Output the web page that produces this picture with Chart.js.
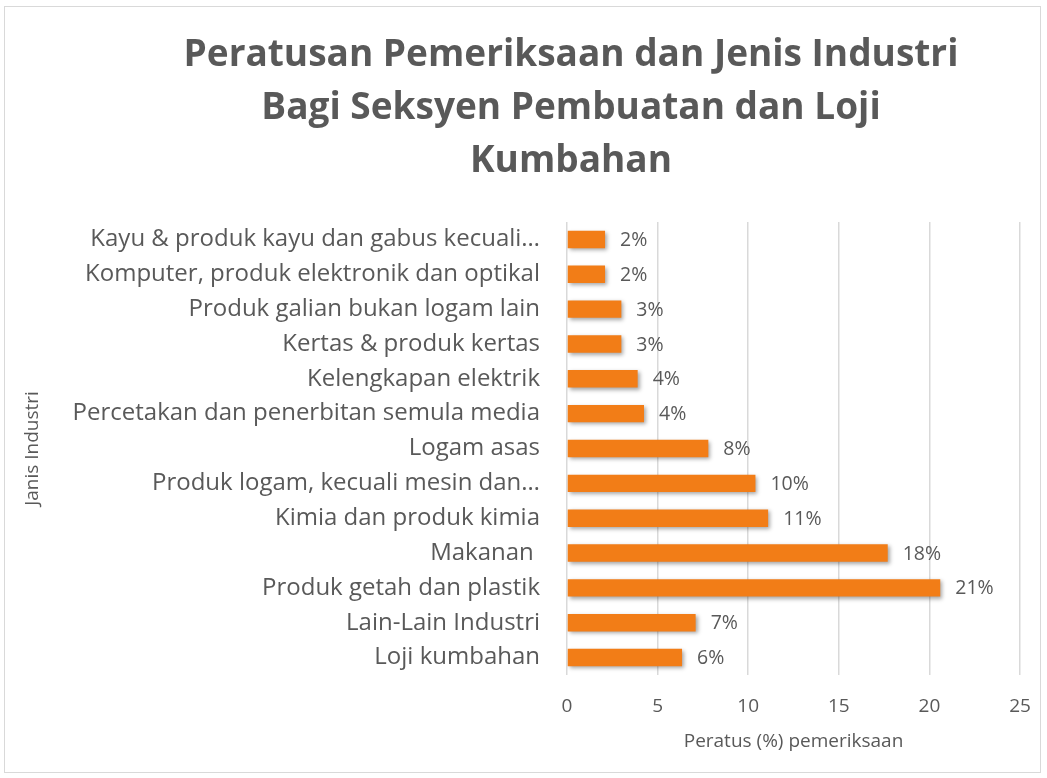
<!DOCTYPE html>
<html>
<head>
<meta charset="utf-8">
<script src="https://cdn.jsdelivr.net/npm/chart.js@4"></script>
<style>
  body { margin: 0; background: #fff; }
  #wrap { width: 1047px; height: 778px; position: relative; }
</style>
</head>
<body>
<div id="wrap"><canvas id="chart"></canvas></div>
<script>
const titleLines = ['Peratusan Pemeriksaan dan Jenis Industri', 'Bagi Seksyen Pembuatan dan Loji', 'Kumbahan'];
const industries = [
  'Kayu & produk kayu dan gabus kecuali…',
  'Komputer, produk elektronik dan optikal',
  'Produk galian bukan logam lain',
  'Kertas & produk kertas',
  'Kelengkapan elektrik',
  'Percetakan dan penerbitan semula media',
  'Logam asas',
  'Produk logam, kecuali mesin dan…',
  'Kimia dan produk kimia',
  'Makanan ',
  'Produk getah dan plastik',
  'Lain-Lain Industri',
  'Loji kumbahan'
];
const percentages = [2.1, 2.1, 3.0, 3.0, 3.9, 4.25, 7.8, 10.4, 11.1, 17.7, 20.6, 7.1, 6.35];
const xAxisMin = 0;
const xAxisMax = 25;
const xAxisStep = 5;

const grey = '#595959';
const font = '"Open Sans", Lato, sans-serif';

// title drawn by hand so it can sit where Excel put it
const titlePlugin = {
  id: 'excelTitle',
  afterDraw(chart) {
    const ctx = chart.ctx;
    ctx.save();
    ctx.fillStyle = grey;
    ctx.font = 'bold 37px ' + font;
    ctx.textAlign = 'center';
    ctx.textBaseline = 'middle';
    titleLines.forEach((line, i) => ctx.fillText(line, 571, 55 + i * 53));
    // chart border
    ctx.strokeStyle = '#d9d9d9';
    ctx.lineWidth = 1;
    ctx.strokeRect(4.5, 6.5, 1036, 766);
    ctx.restore();
  }
};

const barShadow = {
  id: 'barShadow',
  beforeDatasetsDraw(chart) {
    const ctx = chart.ctx;
    ctx.save();
    ctx.shadowColor = 'rgba(0,0,0,0.35)';
    ctx.shadowBlur = 4;
    ctx.shadowOffsetX = 2;
    ctx.shadowOffsetY = 2;
  },
  afterDatasetsDraw(chart) {
    chart.ctx.restore();
  }
};

const valueLabels = {
  id: 'valueLabels',
  afterDatasetsDraw(chart) {
    const ctx = chart.ctx;
    const meta = chart.getDatasetMeta(0);
    ctx.save();
    ctx.fillStyle = grey;
    ctx.font = '19.5px ' + font;
    ctx.textAlign = 'left';
    ctx.textBaseline = 'middle';
    meta.data.forEach((bar, i) => {
      ctx.fillText(Math.round(percentages[i]) + '%', bar.x + 15, bar.y + 1);
    });
    ctx.restore();
  }
};

new Chart(document.getElementById('chart'), {
  type: 'bar',
  data: {
    labels: industries,
    datasets: [{
      label: 'Peratus (%) pemeriksaan',
      data: percentages,
      backgroundColor: '#F27D17',
      borderWidth: 0,
      barPercentage: 0.5,
      categoryPercentage: 1
    }]
  },
  options: {
    indexAxis: 'y',
    responsive: true,
    maintainAspectRatio: false,
    animation: false,
    layout: { padding: { top: 222, right: 27, bottom: 12, left: 18 } },
    plugins: {
      legend: { display: false },
      title: { display: false },
      tooltip: { enabled: false }
    },
    scales: {
      x: {
        min: xAxisMin,
        max: xAxisMax,
        afterFit(scale) {
          scale.height = 91;
          scale.paddingLeft = 0;
          scale.paddingRight = 0;
        },
        ticks: { stepSize: xAxisStep, color: grey, font: { family: font, size: 19 }, padding: 20 },
        grid: { color: '#d9d9d9', lineWidth: 1.5, drawTicks: false },
        border: { display: false },
        title: { display: true, text: 'Peratus (%) pemeriksaan', color: grey, font: { family: font, size: 19 }, padding: { bottom: 13 } }
      },
      y: {
        afterFit(scale) { scale.width = 549; },
        ticks: { color: grey, font: { family: font, size: 24 }, padding: 27, autoSkip: false },
        grid: { display: false, drawTicks: false },
        border: { display: false },
        title: { display: true, text: 'Janis Industri', color: grey, font: { family: font, size: 19 }, padding: { top: 3 } }
      }
    }
  },
  plugins: [titlePlugin, barShadow, valueLabels]
});
</script>
</body>
</html>
